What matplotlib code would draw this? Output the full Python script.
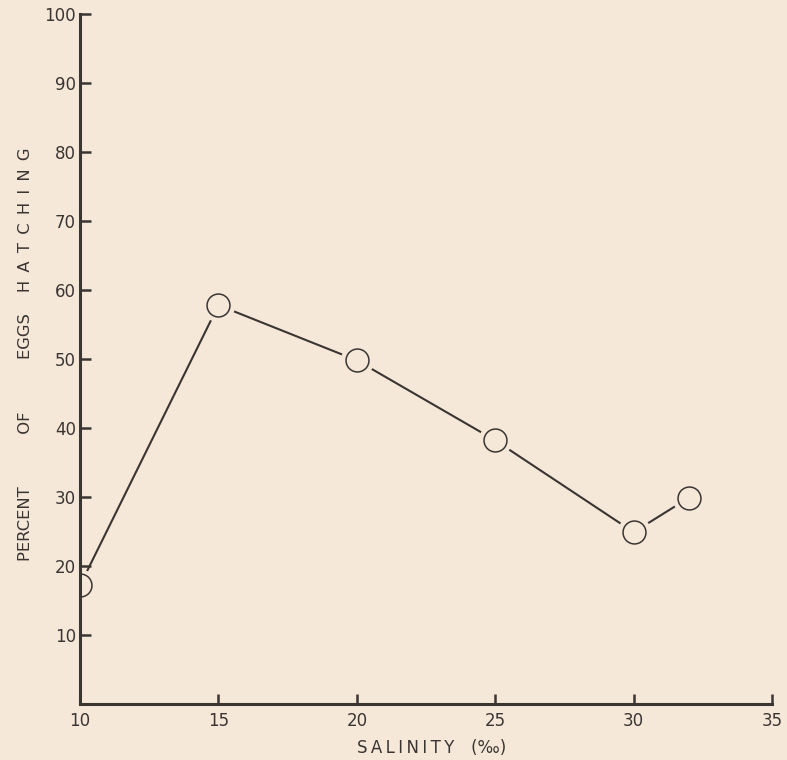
import matplotlib
matplotlib.use("Agg")
import matplotlib.pyplot as plt
from matplotlib.path import Path

# salinity (per mille) vs percent of eggs hatching
salinity = [10, 15, 20, 25, 30, 32]
hatching = [17.2, 57.8, 49.8, 38.2, 24.9, 29.9]

xticks = [10, 15, 20, 25, 30, 35]
yticks = [10, 20, 30, 40, 50, 60, 70, 80, 90, 100]

bg = "#f5e8d9"
ink = "#3b3532"


def spread(word, gap="\u2009"):
    return gap.join(word)


fig = plt.figure(figsize=(7.87, 7.6), dpi=100, facecolor=bg)
ax = fig.add_axes([0.1017, 0.0737, 0.8793, 0.9079])
ax.set_facecolor(bg)

ax.plot(salinity, hatching, color=ink, lw=1.5, zorder=2)
# background-coloured halo so the line stops short of each circle
ax.plot(salinity[1:], hatching[1:], ls="none", marker="o", ms=23, mfc=bg, mec=bg, zorder=2.2)
ax.plot(salinity[1:], hatching[1:], ls="none", marker="o", ms=16.5, mfc=bg, mec=ink, mew=1.1, zorder=2.4)
# first circle sits on the y axis: only its right half shows
ax.plot(salinity[:1], hatching[:1], ls="none", marker=Path.wedge(-90, 90), ms=23,
        mfc=bg, mec=bg, mew=0, zorder=2.2)
ax.plot(salinity[:1], hatching[:1], ls="none", marker=Path.arc(-90, 90), ms=16.5,
        mfc="none", mec=ink, mew=1.1, zorder=2.4)

ax.set_xlim(10, 35)
ax.set_ylim(0, 100)
ax.set_xticks(xticks)
ax.set_yticks(yticks)
ax.set_xticklabels([str(v) for v in xticks])
ax.set_yticklabels([str(v) for v in yticks])

for s in ["top", "right"]:
    ax.spines[s].set_visible(False)
for s in ["left", "bottom"]:
    ax.spines[s].set_linewidth(2.2)
    ax.spines[s].set_color(ink)
    ax.spines[s].set_zorder(3)

ax.tick_params(axis="y", direction="in", length=8, width=1.8, color=ink,
               labelsize=12, labelcolor=ink, pad=3)
ax.tick_params(axis="x", direction="in", length=7, width=1.8, color=ink,
               labelsize=12, labelcolor=ink, pad=6)

xlab = spread("SALINITY") + "\u2002\u2002" + "(‰)"
ylab = ("PERCENT" + " " * 10 + "OF" + " " * 10 + "EGGS" + " " * 4
        + spread("HATCHING", "\u2002"))
fig.text(432 / 787, 1 - 748 / 760, xlab, fontsize=12, color=ink,
         ha="center", va="center")
fig.text(26 / 787, 1 - 354 / 760, ylab, fontsize=11.8, color=ink,
         ha="center", va="center", rotation=90)

plt.savefig("out.png", dpi=100, facecolor=bg)
